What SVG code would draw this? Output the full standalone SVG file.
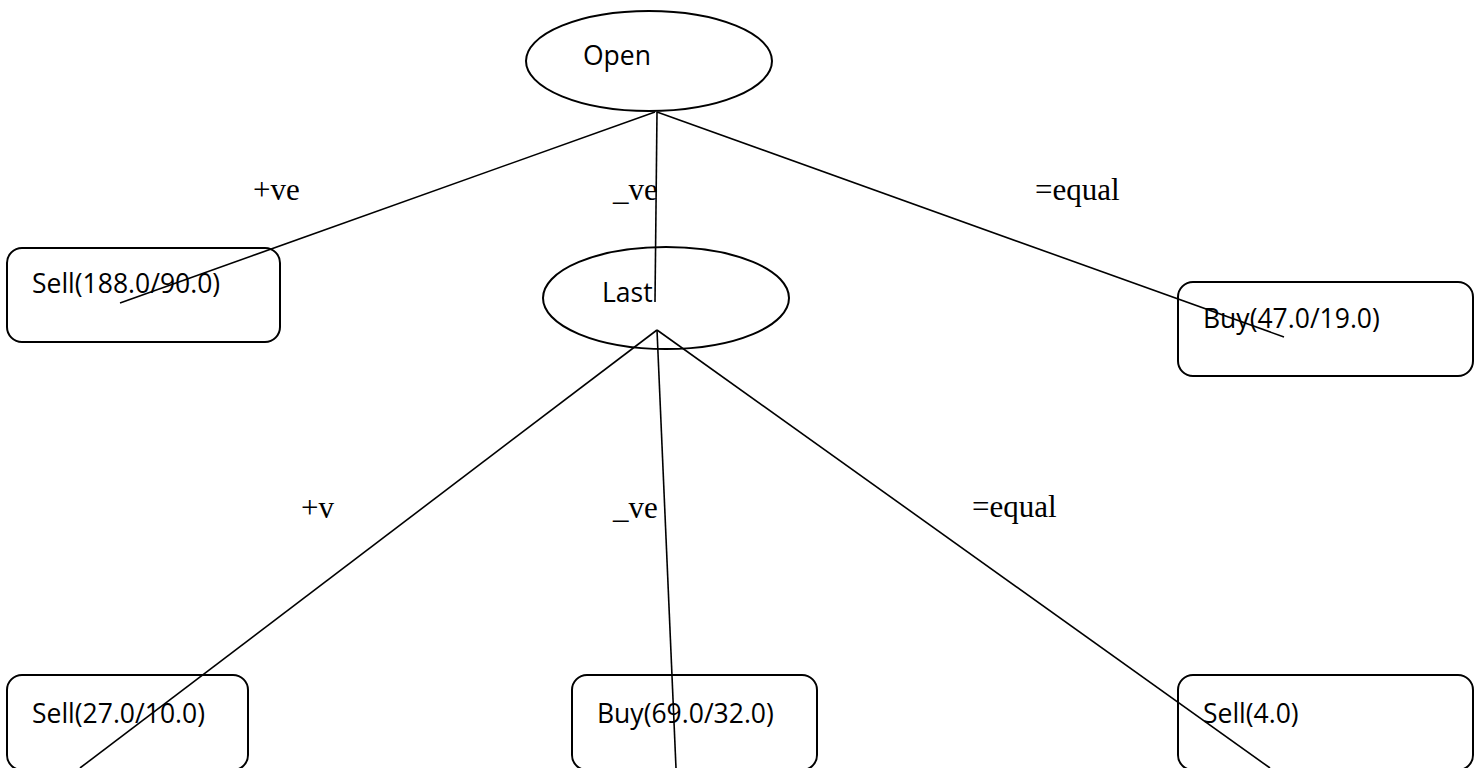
<svg xmlns="http://www.w3.org/2000/svg" width="1483" height="768" viewBox="0 0 1483 768">
<style>
.shape{fill:none;stroke:#000;stroke-width:2}
.edge{stroke:#000;stroke-width:1.6;fill:none}
.node{font-family:"Open Sans","Liberation Sans",sans-serif;font-size:26.5px;fill:#000}
.lbl{font-family:"Liberation Serif","Times New Roman",serif;font-size:31px;fill:#000}
</style>
<rect width="1483" height="768" fill="#fff"/>
<g id="n-open"><ellipse class="shape" cx="649" cy="61" rx="123" ry="50"/><text class="node" x="583" y="65">Open</text></g>
<g id="n-sell1"><rect class="shape" x="7" y="248" width="273" height="94" rx="15"/><text class="node" x="32" y="293">Sell(188.0/90.0)</text></g>
<g id="n-last"><ellipse class="shape" cx="666" cy="298" rx="123" ry="51"/><text class="node" x="602" y="302">Last</text></g>
<g id="n-buy1"><rect class="shape" x="1178" y="282" width="295" height="94" rx="15"/><text class="node" x="1203" y="328">Buy(47.0/19.0)</text></g>
<g id="n-sell2"><rect class="shape" x="7" y="675" width="241" height="95" rx="15"/><text class="node" x="32" y="723">Sell(27.0/10.0)</text></g>
<g id="n-buy2"><rect class="shape" x="572" y="675" width="245" height="95" rx="15"/><text class="node" x="597" y="723">Buy(69.0/32.0)</text></g>
<g id="n-sell3"><rect class="shape" x="1178" y="675" width="295" height="95" rx="15"/><text class="node" x="1203" y="723">Sell(4.0)</text></g>
<g id="connectors">
<line class="edge" x1="655" y1="112" x2="120" y2="303"/>
<line class="edge" x1="657" y1="112" x2="655" y2="302"/>
<line class="edge" x1="657" y1="112" x2="1284" y2="337"/>
<line class="edge" x1="657" y1="330" x2="80" y2="768"/>
<line class="edge" x1="657" y1="330" x2="676" y2="768"/>
<line class="edge" x1="657" y1="330" x2="1270" y2="768"/>
</g>
<g id="labels">
<text class="lbl" x="253" y="200">+ve</text>
<text class="lbl" x="613" y="200">_ve</text>
<text class="lbl" x="1035" y="200">=equal</text>
<text class="lbl" x="301" y="518">+v</text>
<text class="lbl" x="613" y="518">_ve</text>
<text class="lbl" x="972" y="517">=equal</text>
</g>
</svg>
